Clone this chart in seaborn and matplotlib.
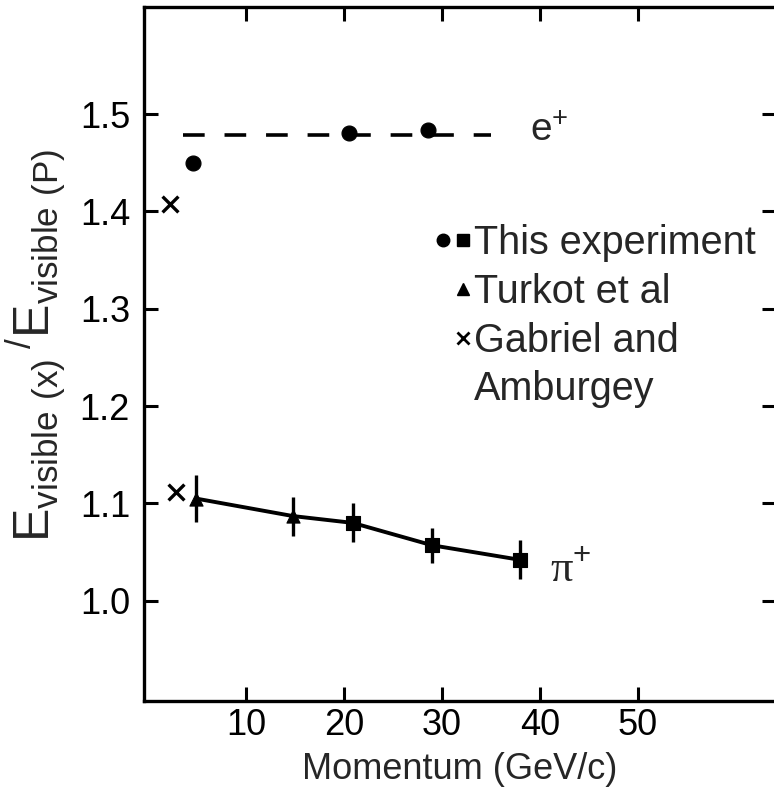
import matplotlib
matplotlib.use("Agg")
import matplotlib.pyplot as plt
import seaborn as sns
import pandas as pd
from matplotlib.lines import Line2D
from matplotlib.legend_handler import HandlerTuple

# Data (momentum in GeV/c, ratio E_vis(x)/E_vis(P))
e_circle_p = [4.6, 20.5, 28.6]
e_circle_r = [1.450, 1.481, 1.484]
e_fit_p = [3.6, 35.0]
e_fit_r = [1.478, 1.478]

turkot_p = [4.9, 14.8]
turkot_r = [1.105, 1.087]
turkot_err = [0.024, 0.020]

square_p = [20.9, 29.0, 38.0]
square_r = [1.080, 1.057, 1.042]
square_err = [0.020, 0.018, 0.020]

gabriel_p = [2.3, 2.9]
gabriel_r = [1.408, 1.112]

x_ticks = [10, 20, 30, 40, 50]
y_ticks = [1.0, 1.1, 1.2, 1.3, 1.4, 1.5]

sns.set_theme(style="ticks")
plt.rcParams['font.family'] = ['Liberation Sans', 'DejaVu Sans']
plt.rcParams['mathtext.fontset'] = 'custom'
plt.rcParams['mathtext.rm'] = 'Liberation Sans'

fig = plt.figure(figsize=(7.74, 7.89), dpi=100)
ax = fig.add_axes([144 / 774, 88 / 789, 632 / 774, 694 / 789])

# pi+ curve through all the pion points
pi_df = pd.DataFrame({'p': turkot_p + square_p, 'r': turkot_r + square_r})
sns.lineplot(data=pi_df, x='p', y='r', color='black', lw=2.8, ax=ax, sort=True)

# error bars
ax.errorbar(turkot_p, turkot_r, yerr=turkot_err, fmt='none', ecolor='black', elinewidth=2.4, capsize=0)
ax.errorbar(square_p, square_r, yerr=square_err, fmt='none', ecolor='black', elinewidth=2.4, capsize=0)

# markers
sns.scatterplot(x=turkot_p, y=turkot_r, marker='^', s=90, color='black', edgecolor='black', ax=ax)
sns.scatterplot(x=square_p, y=square_r, marker='s', s=100, color='black', edgecolor='black', ax=ax)
sns.scatterplot(x=e_circle_p, y=e_circle_r, marker='o', s=115, color='black', edgecolor='black', ax=ax)
sns.scatterplot(x=gabriel_p, y=gabriel_r, marker='x', s=130, color='black', linewidth=2.4, ax=ax)

# e+ dashed level
sns.lineplot(x=e_fit_p, y=e_fit_r, color='black', lw=2.6, ax=ax)
ax.lines[-1].set_dashes([6, 5.5])

ax.text(41.0, 1.482, 'e$^{+}$', fontsize=28, va='center', ha='center')
ax.text(43.2, 1.032, 'π$^{+}$', fontsize=32, va='center', ha='center',
        family=['Liberation Serif', 'DejaVu Serif'])

ax.set_xlim(-0.4, 64.1)
ax.set_ylim(0.897, 1.61)
ax.set_xticks(x_ticks)
ax.set_yticks(y_ticks)
ax.set_yticklabels([f"{v:.1f}" for v in y_ticks])
ax.tick_params(direction='in', length=10, width=2.2, labelsize=26, top=True, right=True,
               labeltop=False, labelright=False, colors='black')
ax.tick_params(axis='y', pad=10)
ax.tick_params(axis='x', pad=5)
for sp in ax.spines.values():
    sp.set_linewidth(2.4)
    sp.set_color('black')
    sp.set_visible(True)

ax.set_xlabel('Momentum (GeV/c)', fontsize=26)
ax.xaxis.label.set_va('baseline')
ax.xaxis.set_label_coords(0.5, -0.1125)
ax.set_ylabel(r'$\mathregular{E_{visible\ (x)}\,{}^{/}E_{visible\ (P)}}$', fontsize=36)
ax.yaxis.set_label_coords(-0.12, 0.513)

# legend
blank = Line2D([], [], ls='none', marker=None)
h_circ = Line2D([], [], ls='none', marker='o', color='black', ms=9)
h_sq = Line2D([], [], ls='none', marker='s', color='black', ms=8)
h_tri = Line2D([], [], ls='none', marker='^', color='black', ms=8)
h_x = Line2D([], [], ls='none', marker='x', color='black', ms=9, mew=2)
ax.legend([(h_circ, h_sq), (blank, h_tri), (blank, h_x), (blank, blank)],
          ['This experiment', 'Turkot et al', 'Gabriel and', 'Amburgey'],
          handler_map={tuple: HandlerTuple(ndivide=None, pad=0.0)},
          frameon=False, fontsize=28.5, handlelength=1.0, handletextpad=0.05,
          labelspacing=0.27, borderpad=0, loc='upper left',
          bbox_to_anchor=(0.457, 0.687), borderaxespad=0)

fig.savefig('out.png', dpi=100)
